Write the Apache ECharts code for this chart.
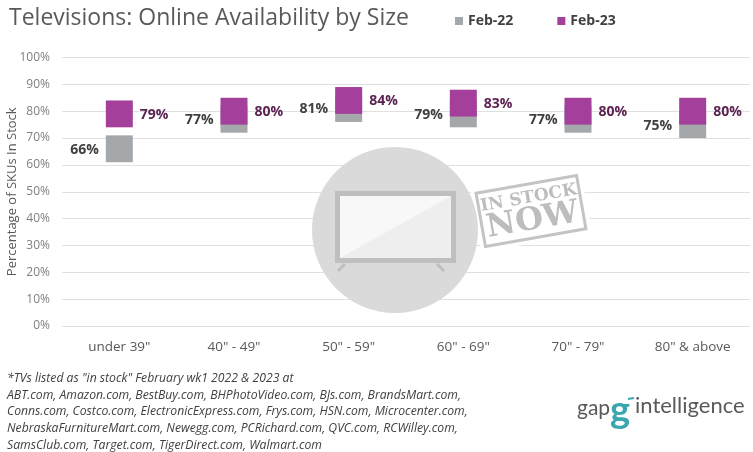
<!DOCTYPE html>
<html>
<head>
<meta charset="utf-8">
<title>Televisions: Online Availability by Size</title>
<script src="https://cdn.jsdelivr.net/npm/echarts@6/dist/echarts.min.js"></script>
<style>
  html, body { margin: 0; padding: 0; background: #fff; }
  #chart { width: 753px; height: 452px; }
</style>
</head>
<body>
<div id="chart"></div>
<script>
// 数据
var categories = ['under 39"', '40" - 49"', '50" - 59"', '60" - 69"', '70" - 79"', '80" & above'];
var feb22 = [66, 77, 81, 79, 77, 75];
var feb23 = [79, 80, 84, 83, 80, 80];
var seriesNames = ['Feb-22', 'Feb-23'];

var FONT = '"Open Sans", sans-serif';
var GRAY = '#a5a8ab';
var PURPLE = '#a4409c';

// 方块:以数值为中心,上下各 5%
function boxRender(color, labelColor, side) {
    return function (params, api) {
        var i = api.value(0), v = api.value(1);
        var top = api.coord([i, v + 5]);
        var bot = api.coord([i, v - 5]);
        var mid = api.coord([i, v]);
        var w = 27;
        var tx = side === 'left' ? top[0] - w / 2 - 7 : top[0] + w / 2 + 7;
        return {
            type: 'group',
            children: [{
                type: 'rect',
                shape: { x: top[0] - w / 2, y: top[1], width: w, height: bot[1] - top[1] },
                style: { fill: color }
            }, {
                type: 'text',
                x: tx, y: mid[1] + 1,
                style: {
                    text: v + '%',
                    align: side === 'left' ? 'right' : 'left',
                    verticalAlign: 'middle',
                    font: 'bold 14px ' + FONT,
                    fill: labelColor
                }
            }]
        };
    };
}

var chart = echarts.init(document.getElementById('chart'));

var footnote = [
    '*TVs listed as "in stock" February wk1 2022 & 2023 at',
    'ABT.com, Amazon.com, BestBuy.com, BHPhotoVideo.com, BJs.com, BrandsMart.com,',
    'Conns.com, Costco.com, ElectronicExpress.com, Frys.com, HSN.com, Microcenter.com,',
    'NebraskaFurnitureMart.com, Newegg.com, PCRichard.com, QVC.com, RCWilley.com,',
    'SamsClub.com, Target.com, TigerDirect.com, Walmart.com'
].join('\n');

var option = {
    backgroundColor: '#fff',
    animation: false,
    title: {
        text: 'Televisions: Online Availability by Size',
        left: 4,
        top: 2,
        textStyle: { fontFamily: FONT, fontSize: 23, fontWeight: 'normal', color: '#595959' }
    },
    legend: {
        data: seriesNames,
        left: 450,
        top: 9,
        icon: 'rect',
        itemWidth: 8,
        itemHeight: 8,
        itemGap: 44,
        textStyle: { fontFamily: FONT, fontSize: 14, fontWeight: 'bold', color: '#404040' }
    },
    grid: { left: 62, right: 3, top: 57.5, bottom: 126, outerBoundsMode: 'none', containLabel: false },
    xAxis: {
        type: 'category',
        data: categories,
        axisLine: { show: false },
        axisTick: { show: false },
        axisLabel: { margin: 14, fontFamily: FONT, fontSize: 13.5, color: '#595959' }
    },
    yAxis: {
        type: 'value',
        min: 0,
        max: 100,
        interval: 10,
        name: 'Percentage of SKUs In Stock',
        nameLocation: 'middle',
        nameGap: 43,
        nameMoveOverlap: false,
        nameTextStyle: { fontFamily: FONT, fontSize: 13, color: '#595959' },
        axisLabel: { margin: 12, formatter: '{value}%', fontFamily: FONT, fontSize: 12, color: '#7f7f7f' },
        splitLine: { lineStyle: { color: '#e0e0e0', width: 1 } }
    },
    graphic: [
        // 印章后面的白底
        { type: 'rect', z: 1, x: 531, y: 211, rotation: 10 * Math.PI / 180, shape: { x: -56, y: -32, width: 112, height: 64 }, style: { fill: '#fff' } },
        // 背景圆 + 电视图标
        { type: 'circle', z: 1, shape: { cx: 395, cy: 230, r: 83 }, style: { fill: '#dadada' } },
        { type: 'rect', z: 1, shape: { x: 335, y: 191, width: 121, height: 72 }, style: { fill: '#bfbfbf' } },
        { type: 'polygon', z: 1, shape: { points: [[340, 196], [451, 196], [451, 258], [340, 258]] }, style: { fill: '#eeeeee' } },
        { type: 'polygon', z: 1, shape: { points: [[340, 196], [451, 196], [340, 258]] }, style: { fill: '#f8f8f8' } },
        { type: 'line', z: 1, shape: { x1: 345, y1: 264, x2: 338, y2: 271 }, style: { stroke: '#bfbfbf', lineWidth: 3 } },
        { type: 'line', z: 1, shape: { x1: 437, y1: 264, x2: 444, y2: 271 }, style: { stroke: '#bfbfbf', lineWidth: 3 } },
        // IN STOCK NOW 印章
        {
            type: 'group', z: 1, x: 531, y: 211, rotation: 10 * Math.PI / 180,
            children: [
                { type: 'rect', z: 1, shape: { x: -51, y: -27, width: 102, height: 54 }, style: { fill: '#fff', stroke: '#c4c4c4', lineWidth: 3 } },
                { type: 'text', z: 1, x: 0, y: -13, style: { text: 'IN STOCK', align: 'center', verticalAlign: 'middle', font: 'bold 17px "DejaVu Serif", serif', fill: '#bdbdbd' } },
                { type: 'text', z: 1, x: 0, y: 10, style: { text: 'NOW', align: 'center', verticalAlign: 'middle', font: 'bold 32px "DejaVu Serif", serif', fill: '#bdbdbd' } }
            ]
        },
        // 注释
        {
            type: 'text', left: 7, top: 370,
            style: { text: footnote, font: 'italic 12.2px ' + FONT, lineHeight: 16.8, fill: '#404040' }
        },
        // logo
        { type: 'text', x: 577, y: 408, style: { text: 'gap', font: '21px Lato, sans-serif', fill: '#58595b', verticalAlign: 'middle' } },
        { type: 'text', x: 610, y: 411, style: { text: 'g', font: 'bold 38px Lato, sans-serif', fill: '#3ba6b0', verticalAlign: 'middle' } },
        { type: 'line', shape: { x1: 628, y1: 399, x2: 634, y2: 398 }, style: { stroke: '#3ba6b0', lineWidth: 2 } },
        { type: 'text', x: 635, y: 406, style: { text: 'intelligence', font: '22px Lato, sans-serif', fill: '#58595b', verticalAlign: 'middle' } }
    ],
    series: [{
        name: seriesNames[0],
        type: 'custom',
        z: 3,
        itemStyle: { color: GRAY },
        encode: { x: 0, y: 1 },
        data: feb22.map(function (v, i) { return [i, v]; }),
        renderItem: boxRender(GRAY, '#404040', 'left')
    }, {
        name: seriesNames[1],
        type: 'custom',
        z: 4,
        itemStyle: { color: PURPLE },
        encode: { x: 0, y: 1 },
        data: feb23.map(function (v, i) { return [i, v]; }),
        renderItem: boxRender(PURPLE, '#5b2352', 'right')
    }]
};

chart.setOption(option);
</script>
</body>
</html>
